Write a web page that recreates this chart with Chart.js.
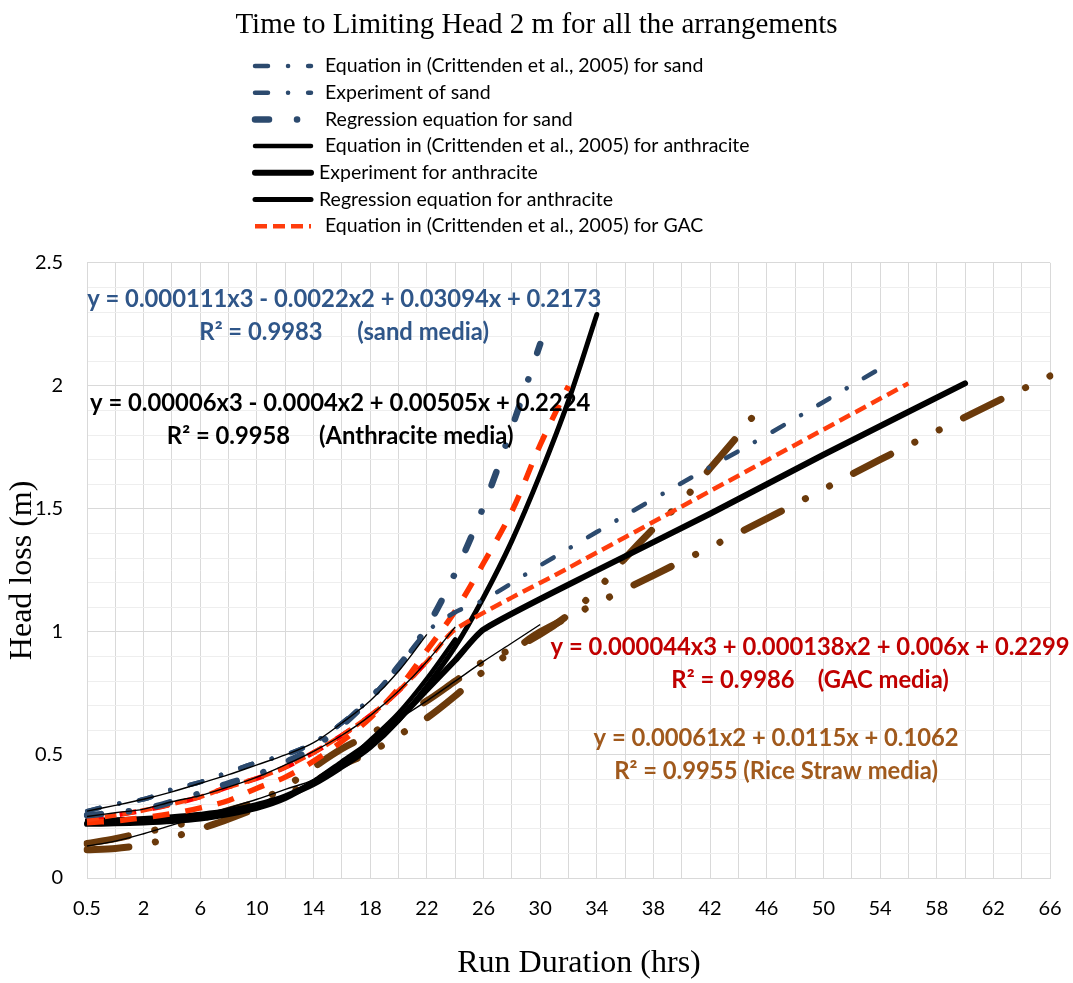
<!DOCTYPE html>
<html>
<head>
<meta charset="utf-8">
<title>Time to Limiting Head 2 m for all the arrangements</title>
<script src="https://cdn.jsdelivr.net/npm/chart.js@4.4.1/dist/chart.umd.min.js"></script>
<style>
  html, body { margin: 0; padding: 0; background: #fff; }
  #wrap { width: 1073px; height: 983px; position: relative; }
</style>
</head>
<body>
<div id="wrap"><canvas id="chart"></canvas></div>
<script>
// Run duration categories (hrs)
const hours = ['0.5', '1', '2', '4', '6', '8', '10', '12', '14', '16', '18', '20', '22', '24', '26', '28', '30',
    '32', '34', '36', '38', '40', '42', '44', '46', '48', '50', '52', '54', '56', '58', '60', '62', '64', '66'];

// Sand (null = no reading, the line runs straight through)
const sandEquation = [0.272, 0.30, 0.32, 0.36, 0.39, 0.43, 0.47, 0.50, 0.55, 0.63, 0.73, 0.86, 1.00, 1.08, 1.13,
    null, 1.27, null, null, null, 1.54, null, null, null, 1.80, null, null, null, 2.07];
const sandExperiment = [0.272, 0.30, 0.32, 0.36, 0.39, 0.43, 0.47, 0.50, 0.55, 0.63, 0.73, 0.86, 1.00];
const sandRegression = [0.255, 0.265, 0.28, 0.31, 0.345, 0.385, 0.42, 0.47, 0.53, 0.62, 0.73, 0.86, 1.02, 1.24,
    1.51, 1.83, 2.17];

// Anthracite
const anthEquation = [0.235, 0.238, 0.243, 0.25, 0.26, 0.275, 0.30, 0.335, 0.39, 0.46, 0.56, 0.67, 0.81, 0.97];
const anthExperiment = [0.22, 0.222, 0.226, 0.232, 0.242, 0.26, 0.285, 0.325, 0.39, 0.47, 0.55, 0.645, 0.765,
    0.885, 1.01, null, null, null, 1.25, null, null, null, 1.48, null, null, null, 1.72, null, null, null, null, 2.01];
const anthRegression = [0.225, 0.228, 0.232, 0.24, 0.25, 0.265, 0.29, 0.33, 0.38, 0.45, 0.53, 0.64, 0.78, 0.94,
    1.14, 1.37, 1.64, 1.94, 2.29];

// GAC
const gacEquation = [0.235, 0.255, 0.275, 0.30, 0.33, 0.37, 0.405, 0.45, 0.51, 0.58, 0.66, 0.76, 0.88, 1.01,
    null, null, null, 1.26, null, null, null, 1.51, null, null, null, 1.76, null, null, null, 2.01];
const gacExperiment = [0.225, 0.232, 0.245, 0.262, 0.285, 0.315, 0.365, 0.41, 0.475, 0.555, 0.65, 0.77, 0.925,
    1.085, 1.28, 1.49, 1.76, 2.00];
const gacRegression = [0.235, 0.255, 0.275, 0.30, 0.33, 0.37, 0.405, 0.45, 0.51, 0.58, 0.66, 0.76, 0.88];

// Rice straw
const riceUpper = [0.14, 0.16, 0.185, 0.21, 0.24, 0.275, 0.31, 0.37, 0.45, 0.525, 0.585, 0.655, 0.72, 0.80, 0.88,
    0.93, 0.99, 1.07, 1.17, 1.30, 1.42, 1.53, 1.665, 1.80, 1.95];
const riceLower = [0.115, 0.12, 0.135, 0.165, 0.20, 0.24, 0.285, 0.34, 0.39, 0.46, 0.51, 0.58, 0.65, 0.74, 0.84,
    0.92, 1.00, null, null, null, 1.23, null, null, null, 1.46, null, null, null, 1.70, null, null, null, 1.93,
    null, 2.04];

// Thin polynomial trendlines
const sandTrend = [0.272, 0.295, 0.32, 0.35, 0.385, 0.42, 0.46, 0.50, 0.55, 0.63, 0.72, 0.84, 0.99];
const gacTrend = [0.25, 0.265, 0.28, 0.31, 0.335, 0.37, 0.41, 0.46, 0.515, 0.58, 0.66, 0.76, 0.88, 1.02];
const riceTrend = [0.13, 0.15, 0.18, 0.215, 0.25, 0.285, 0.32, 0.36, 0.40, 0.47, 0.56, 0.645, 0.72, 0.80, 0.88,
    0.955, 1.03];

const notes = [
    { lines: ['y = 0.000111x3 - 0.0022x2 + 0.03094x + 0.2173', 'R\u00B2 = 0.9983      (sand media)'], color: '#2F5689', at: [9.08, 2.35] },
    { lines: ['y = 0.00006x3 - 0.0004x2 + 0.00505x + 0.2224', 'R\u00B2 = 0.9958     (Anthracite media)'], color: '#000000', at: [8.94, 1.927] },
    { lines: ['y = 0.000044x3 + 0.000138x2 + 0.006x + 0.2299', 'R\u00B2 = 0.9986    (GAC media)'], color: '#C00000', at: [25.53, 0.939] },
    { lines: ['y = 0.00061x2 + 0.0115x + 0.1062', 'R\u00B2 = 0.9955 (Rice Straw media)'], color: '#A0591C', at: [24.33, 0.569] }
];

const NAVY = '#2C4A6E';
const BROWN = '#6B3A0B';
const UI_FONT = 'Lato, "Open Sans", sans-serif';
const SERIF = '"Liberation Serif", "Times New Roman", serif';

function line(label, data, color, width, dash, extra) {
    return Object.assign({
        label: label,
        data: data,
        borderColor: color,
        backgroundColor: color,
        borderWidth: width,
        borderDash: dash,
        borderCapStyle: 'round',
        borderJoinStyle: 'round',
        pointRadius: 0,
        pointHoverRadius: 0,
        tension: 0.35,
        fill: false
    }, extra || {});
}

const datasets = [
    line('Equation in (Crittenden et al., 2005) for sand', sandEquation, NAVY, 4.5, [13, 20, 0.1, 20], { order: 1 }),
    line('Experiment of sand', sandExperiment, NAVY, 4.5, [13, 20, 0.1, 20], { order: 1 }),
    line('Regression equation for sand', sandRegression, NAVY, 6.5, [14, 28, 0.1, 28], { order: 1 }),
    line('Equation in (Crittenden et al., 2005) for anthracite', anthEquation, '#000000', 4.5, [], { order: 3 }),
    line('Experiment for anthracite', anthExperiment, '#000000', 6, [], { order: 3, tension: 0.2 }),
    line('Regression equation for anthracite', anthRegression, '#000000', 5, [], { order: 3 }),
    line('Equation in (Crittenden et al., 2005) for GAC', gacEquation, '#FF3D0D', 4.5, [12, 6], { order: 2, borderCapStyle: 'butt', tension: 0.25 }),
    line('Experiment for GAC', gacExperiment, '#FF3300', 5.5, [17, 16], { order: 2, borderCapStyle: 'butt' }),
    line('Regression equation for GAC', gacRegression, '#FF0000', 5, [17, 16], { order: 2, borderCapStyle: 'butt' }),
    line('Rice straw A', riceUpper, BROWN, 7, [42, 27, 0.1, 27, 0.1, 27], { order: 4 }),
    line('Rice straw B', riceLower, BROWN, 7, [42, 27, 0.1, 27, 0.1, 27], { order: 4, tension: 0.25 }),
    line('Trend sand', sandTrend, '#000000', 1.4, [], { order: 0, borderCapStyle: 'butt' }),
    line('Trend GAC', gacTrend, '#000000', 1.4, [], { order: 0, borderCapStyle: 'butt' }),
    line('Trend rice straw', riceTrend, '#000000', 1.4, [], { order: 0, borderCapStyle: 'butt' })
];

// legend: only the first seven series, one per row
const legendLines = {
    id: 'legendLines',
    afterDraw(chart) {
        const ctx = chart.ctx;
        ctx.save();
        ctx.font = '19.5px ' + UI_FONT;
        ctx.textBaseline = 'middle';
        ctx.textAlign = 'left';
        chart.data.datasets.slice(0, 7).forEach((ds, k) => {
            const y = 66 + k * 26.7;
            ctx.beginPath();
            ctx.strokeStyle = ds.borderColor;
            ctx.lineWidth = ds.borderWidth;
            ctx.lineCap = ds.borderCapStyle;
            ctx.setLineDash(ds.borderDash);
            ctx.moveTo(255, y);
            ctx.lineTo(311, y);
            ctx.stroke();
            ctx.setLineDash([]);
            ctx.fillStyle = '#000';
            ctx.fillText(ds.label, (k === 4 || k === 5) ? 319 : 325, y);
        });

        // x axis title, centred a little right of the plot centre as in the source
        ctx.font = '32px ' + SERIF;
        ctx.textAlign = 'center';
        ctx.fillText('Run Duration (hrs)', 579, 964);
        ctx.restore();
    }
};

// trendline equations
const noteText = {
    id: 'noteText',
    afterDatasetsDraw(chart) {
        const ctx = chart.ctx;
        const xs = chart.scales.x, ys = chart.scales.y;
        ctx.save();
        ctx.font = 'bold 23.8px ' + UI_FONT;
        ctx.textAlign = 'center';
        ctx.textBaseline = 'middle';
        notes.forEach(n => {
            const x = xs.getPixelForValue(n.at[0]);
            const y = ys.getPixelForValue(n.at[1]);
            ctx.fillStyle = n.color;
            n.lines.forEach((t, k) => ctx.fillText(t, x, y + k * 33));
        });
        ctx.restore();
    }
};

const ctx = document.getElementById('chart').getContext('2d');
new Chart(ctx, {
    type: 'line',
    data: { labels: hours, datasets: datasets },
    plugins: [legendLines, noteText],
    options: {
        responsive: true,
        maintainAspectRatio: false,
        animation: false,
        events: [],
        spanGaps: true,
        layout: { padding: { left: 11.5, right: 11.5, top: 0, bottom: 0 } },
        scales: {
            x: {
                type: 'category',
                offset: false,
                afterFit: (scale) => {
                    scale.height = 105;
                    scale.paddingLeft = 0;
                    scale.paddingRight = 23;
                },
                grid: { color: '#D9D9D9', drawTicks: false },
                border: { color: '#D9D9D9' },
                ticks: {
                    autoSkip: false,
                    maxRotation: 0,
                    padding: 19,
                    color: '#000',
                    font: { family: UI_FONT, size: 20 },
                    callback: function(val, idx) {
                        return idx % 2 === 0 ? this.getLabelForValue(val) : '';
                    }
                }
            },
            y: {
                min: 0,
                max: 2.5,
                afterFit: (scale) => { scale.width = 75.5; },
                grid: {
                    drawTicks: false,
                    color: (c) => {
                        const v = c.tick.value * 2;
                        return Math.abs(v - Math.round(v)) < 1e-6 ? '#D9D9D9' : '#EEEEEE';
                    }
                },
                border: { color: '#D9D9D9' },
                ticks: {
                    stepSize: 0.1,
                    autoSkip: false,
                    padding: 24,
                    color: '#000',
                    font: { family: UI_FONT, size: 20 },
                    callback: (v) => {
                        const d = v * 2;
                        return Math.abs(d - Math.round(d)) < 1e-6 ? String(Math.round(d) / 2) : '';
                    }
                },
                title: {
                    display: true,
                    text: 'Head loss (m)',
                    color: '#000',
                    font: { family: SERIF, size: 32 },
                    padding: { top: -7.7, bottom: 0 }
                }
            }
        },
        plugins: {
            legend: { display: false },
            tooltip: { enabled: false },
            title: {
                display: true,
                text: 'Time to Limiting Head 2 m for all the arrangements',
                color: '#000',
                font: { family: SERIF, size: 29, weight: 'normal' },
                padding: { top: 8, bottom: 220 }
            }
        }
    }
});
</script>
</body>
</html>
